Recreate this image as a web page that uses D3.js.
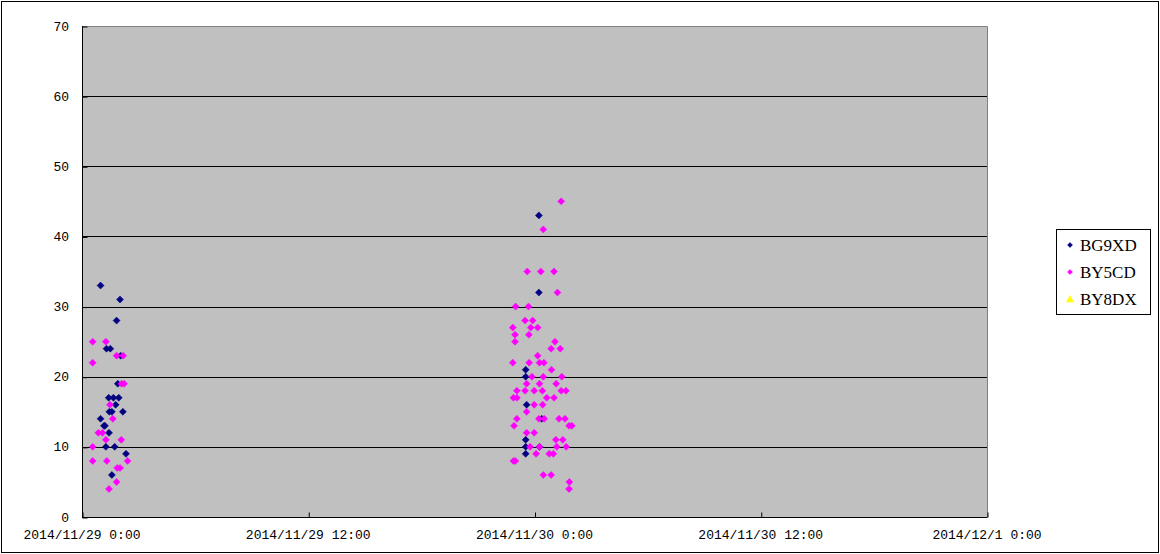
<!DOCTYPE html>
<html>
<head>
<meta charset="utf-8">
<script src="https://cdn.jsdelivr.net/npm/d3@7"></script>
<style>
  html, body { margin: 0; padding: 0; background: #fff; }
  svg { display: block; }
</style>
</head>
<body>
<svg id="chart" width="1160" height="554"></svg>
<script>
// ---- data ----
const seriesNames = ["BG9XD", "BY5CD", "BY8DX"];
const seriesColors = ["#000080", "#FF00FF", "#FFFF00"];
const xTickLabels = ["2014/11/29 0:00", "2014/11/29 12:00", "2014/11/30 0:00", "2014/11/30 12:00", "2014/12/1 0:00"];
const xTickTimes = ["2014-11-29T00:00", "2014-11-29T12:00", "2014-11-30T00:00", "2014-11-30T12:00", "2014-12-01T00:00"];
const yTicks = [0, 10, 20, 30, 40, 50, 60, 70];

const bg9xdTimes = [
  "2014-11-29T00:59","2014-11-29T02:01","2014-11-29T01:50","2014-11-29T01:18","2014-11-29T01:30",
  "2014-11-29T02:03","2014-11-29T01:54","2014-11-29T01:25","2014-11-29T01:40","2014-11-29T01:57",
  "2014-11-29T01:47","2014-11-29T01:27","2014-11-29T01:35","2014-11-29T02:10","2014-11-29T00:59",
  "2014-11-29T01:10","2014-11-29T01:13","2014-11-29T01:26","2014-11-29T01:16","2014-11-29T01:44",
  "2014-11-29T02:20","2014-11-29T01:35",
  "2014-11-30T00:14","2014-11-30T00:14","2014-11-29T23:32","2014-11-29T23:32","2014-11-29T23:35",
  "2014-11-30T00:23","2014-11-29T23:32","2014-11-29T23:32","2014-11-30T00:16","2014-11-29T23:32"
];
const bg9xdValues = [
  33,31,28,24,24,
  23,19,17,17,17,
  16,15,15,15,14,
  13,13,12,10,10,
  9,6,
  43,32,21,20,16,
  14,11,10,10,9
];

const by5cdTimes = [
  "2014-11-29T00:34","2014-11-29T01:16","2014-11-29T01:50","2014-11-29T02:11","2014-11-29T00:34",
  "2014-11-29T02:06","2014-11-29T02:14","2014-11-29T01:29","2014-11-29T01:38","2014-11-29T00:52",
  "2014-11-29T01:05","2014-11-29T01:16","2014-11-29T02:05","2014-11-29T00:34","2014-11-29T00:34",
  "2014-11-29T01:19","2014-11-29T02:25","2014-11-29T01:52","2014-11-29T02:01","2014-11-29T01:50",
  "2014-11-29T01:26",
  "2014-11-30T01:25","2014-11-30T00:28","2014-11-29T23:37","2014-11-30T00:20","2014-11-30T01:02",
  "2014-11-30T01:13","2014-11-29T23:00","2014-11-29T23:41","2014-11-29T23:30","2014-11-29T23:54",
  "2014-11-29T22:51","2014-11-29T23:48","2014-11-30T00:10","2014-11-29T22:58","2014-11-29T23:42",
  "2014-11-29T22:58","2014-11-30T01:05","2014-11-30T00:53","2014-11-30T01:22","2014-11-30T00:10",
  "2014-11-29T22:51","2014-11-29T23:43","2014-11-30T00:16","2014-11-30T00:30","2014-11-30T00:54",
  "2014-11-29T23:52","2014-11-30T00:28","2014-11-30T01:27","2014-11-29T23:35","2014-11-30T00:16",
  "2014-11-30T01:09","2014-11-29T23:04","2014-11-29T23:30","2014-11-29T23:59","2014-11-30T00:25",
  "2014-11-30T01:25","2014-11-30T01:40","2014-11-29T22:53","2014-11-29T23:04","2014-11-30T00:39",
  "2014-11-30T01:02","2014-11-29T23:59","2014-11-30T00:26","2014-11-29T23:35","2014-11-29T23:04",
  "2014-11-30T00:14","2014-11-30T00:31","2014-11-30T01:18","2014-11-30T01:37","2014-11-29T22:55",
  "2014-11-30T01:50","2014-11-30T01:59","2014-11-29T23:35","2014-11-29T23:59","2014-11-30T01:08",
  "2014-11-30T01:30","2014-11-29T23:46","2014-11-30T00:16","2014-11-30T01:11","2014-11-30T01:41",
  "2014-11-30T00:05","2014-11-30T00:47","2014-11-30T01:00","2014-11-29T22:53","2014-11-29T22:59",
  "2014-11-30T00:28","2014-11-30T00:53","2014-11-30T01:51","2014-11-30T01:50"
];
const by5cdValues = [
  25,25,23,23,22,
  19,19,16,14,12,
  12,11,11,10,8,
  8,8,7,7,5,
  4,
  45,41,35,35,35,
  32,30,30,28,28,
  27,27,27,26,26,
  25,25,24,24,23,
  22,22,22,22,21,
  20,20,20,19,19,
  19,18,18,18,18,
  18,18,17,17,17,
  17,16,16,15,14,
  14,14,14,14,13,
  13,13,12,12,11,
  11,10,10,10,10,
  9,9,9,8,8,
  6,6,5,4
];

const by8dxTimes = [];
const by8dxValues = [];

// ---- layout ----
const svg = d3.select("#chart");
const W = 1160, H = 554;
const plot = { left: 82, top: 26, right: 987, bottom: 517 };

const parse = d3.timeParse("%Y-%m-%dT%H:%M");
const x = d3.scaleTime()
  .domain([parse(xTickTimes[0]), parse(xTickTimes[xTickTimes.length - 1])])
  .range([plot.left, plot.right]);
const y = d3.scaleLinear().domain([0, 70]).range([plot.bottom, plot.top]);

// outer border
svg.append("rect").attr("x", 1.5).attr("y", 1.5).attr("width", W - 3).attr("height", H - 3)
  .attr("fill", "#fff").attr("stroke", "#000").attr("stroke-width", 1);

// plot area
svg.append("rect").attr("x", plot.left).attr("y", plot.top)
  .attr("width", plot.right - plot.left).attr("height", plot.bottom - plot.top)
  .attr("fill", "#C0C0C0");
// top and right border gray
svg.append("path")
  .attr("d", `M${plot.left},${plot.top + 0.5}H${plot.right + 0.5}V${plot.bottom}`)
  .attr("fill", "none").attr("stroke", "#808080").attr("stroke-width", 1);

// gridlines
svg.append("g").selectAll("line").data(yTicks.filter(v => v > 0 && v < 70)).join("line")
  .attr("x1", plot.left).attr("x2", plot.right)
  .attr("y1", d => Math.round(y(d)) + 0.5).attr("y2", d => Math.round(y(d)) + 0.5)
  .attr("stroke", "#000").attr("stroke-width", 1);

// y axis
const yAxis = d3.axisRight(y).tickValues(yTicks).tickSize(5).tickFormat("");
const gy = svg.append("g").attr("transform", `translate(${plot.left + 0.5},0.5)`).call(yAxis);
gy.select(".domain").remove();
gy.selectAll(".tick line").attr("stroke", "#000");
svg.append("line").attr("x1", plot.left + 0.5).attr("x2", plot.left + 0.5)
  .attr("y1", plot.top).attr("y2", plot.bottom + 0.5).attr("stroke", "#000");

svg.append("g").selectAll("text").data(yTicks).join("text")
  .attr("x", 69).attr("y", d => y(d))
  .attr("dy", "0.35em")
  .attr("text-anchor", "end")
  .attr("font-family", "'Liberation Mono', 'DejaVu Sans Mono', monospace")
  .attr("font-size", 13)
  .attr("fill", "#000")
  .text(d => d);

// x axis
const xTicks = xTickTimes.map(parse);
const xAxis = d3.axisTop(x).tickValues(xTicks).tickSize(5).tickFormat("");
const gx = svg.append("g").attr("transform", `translate(0.5,${plot.bottom + 0.5})`).call(xAxis);
gx.select(".domain").remove();
gx.selectAll(".tick line").attr("stroke", "#000");
svg.append("line").attr("x1", plot.left).attr("x2", plot.right + 0.5)
  .attr("y1", plot.bottom + 0.5).attr("y2", plot.bottom + 0.5).attr("stroke", "#000");

svg.append("g").selectAll("text").data(xTickLabels).join("text")
  .attr("x", (d, i) => x(xTicks[i]))
  .attr("y", 539)
  .attr("text-anchor", "middle")
  .attr("font-family", "'Liberation Mono', 'DejaVu Sans Mono', monospace")
  .attr("font-size", 13)
  .attr("fill", "#000")
  .text(d => d);

// markers
const diamond = "M0,-3.5L3.5,0L0,3.5L-3.5,0Z";
const triangle = "M0,-4L4,3L-4,3Z";
const series = [
  { name: seriesNames[0], color: seriesColors[0], shape: diamond,
    pts: bg9xdTimes.map((t, i) => ({ t: parse(t), v: bg9xdValues[i] })) },
  { name: seriesNames[1], color: seriesColors[1], shape: diamond,
    pts: by5cdTimes.map((t, i) => ({ t: parse(t), v: by5cdValues[i] })) },
  { name: seriesNames[2], color: seriesColors[2], shape: triangle,
    pts: by8dxTimes.map((t, i) => ({ t: parse(t), v: by8dxValues[i] })) }
];

series.forEach(s => {
  svg.append("g").selectAll("path").data(s.pts).join("path")
    .attr("d", s.shape)
    .attr("transform", d => `translate(${x(d.t)},${y(d.v)})`)
    .attr("fill", s.color)
    .attr("stroke", s.color)
    .attr("stroke-width", 0.5);
});

// legend
const lg = svg.append("g");
lg.append("rect").attr("x", 1056.5).attr("y", 229.5).attr("width", 94).attr("height", 85)
  .attr("fill", "#fff").attr("stroke", "#000").attr("stroke-width", 1);
series.forEach((s, i) => {
  const cy = 245 + i * 27;
  lg.append("path")
    .attr("d", s.shape === diamond ? "M0,-2.5L2.5,0L0,2.5L-2.5,0Z" : "M0,-3.5L3.5,3L-3.5,3Z")
    .attr("transform", `translate(1070,${cy})`)
    .attr("fill", s.color).attr("stroke", s.color).attr("stroke-width", 0.5);
  lg.append("text")
    .attr("x", 1080).attr("y", cy).attr("dy", "0.36em")
    .attr("font-family", "'Liberation Serif', 'DejaVu Serif', serif")
    .attr("font-size", 17)
    .attr("fill", "#000")
    .text(s.name);
});
</script>
</body>
</html>
